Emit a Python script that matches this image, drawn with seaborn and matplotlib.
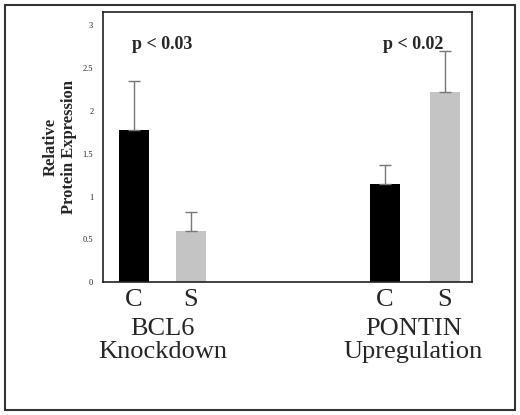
import matplotlib
matplotlib.use("Agg")
import matplotlib.pyplot as plt
import seaborn as sns
import pandas as pd
from matplotlib.patches import Rectangle

groups = ["C", "S", "C", "S"]
positions = [0.0, 1.0, 4.4, 5.45]
values = [1.78, 0.60, 1.15, 2.22]
err_upper = [0.57, 0.22, 0.22, 0.48]
colors = ["#000000", "#c4c4c4", "#000000", "#c4c4c4"]
pvals = ["p < 0.03", "p < 0.02"]
group_titles = ["BCL6\nKnockdown", "PONTIN\nUpregulation"]

sns.set_style("white")
plt.rcParams["font.family"] = ["Liberation Serif", "DejaVu Serif"]

df = pd.DataFrame({"pos": positions, "val": values})
fig = plt.figure(figsize=(5.2, 4.15), dpi=100)
ax = fig.add_axes([0.198, 0.32, 0.71, 0.65])

sns.barplot(data=df, x="pos", y="val", hue="pos", palette=colors, native_scale=True,
            width=0.53, legend=False, ax=ax, edgecolor="none")
ax.errorbar(positions, values, yerr=[[0] * 4, err_upper], fmt="none",
            ecolor="#777777", elinewidth=1, capsize=4, capthick=1)

ax.set_xlim(-0.54, 5.93)
ax.set_ylim(0, 3.15)
ax.set_yticks([0, 0.5, 1, 1.5, 2, 2.5, 3])
ax.set_yticklabels(["0", "0.5", "1", "1.5", "2", "2.5", "3"], fontsize=6)
ax.set_xticks([])
ax.set_xlabel("")
ax.set_ylabel("Relative\nProtein Expression", fontsize=12, fontweight="bold", labelpad=4)
for s in ax.spines.values():
    s.set_color("#222222")
    s.set_linewidth(1.2)

ax.text(0.5, 2.72, pvals[0], ha="center", fontsize=13, fontweight="bold")
ax.text(4.9, 2.72, pvals[1], ha="center", fontsize=13, fontweight="bold")

for p, g in zip(positions, groups):
    ax.text(p, -0.08, g, ha="center", va="top", fontsize=19)
ax.text(0.5, -0.42, group_titles[0], ha="center", va="top", fontsize=19, linespacing=1.05)
ax.text(4.9, -0.42, group_titles[1], ha="center", va="top", fontsize=19, linespacing=1.05)

fig.patches.append(Rectangle((0.01, 0.012), 0.98, 0.976, transform=fig.transFigure,
                             fill=False, edgecolor="#333333", linewidth=1.5))
fig.savefig("out.png", dpi=100)
